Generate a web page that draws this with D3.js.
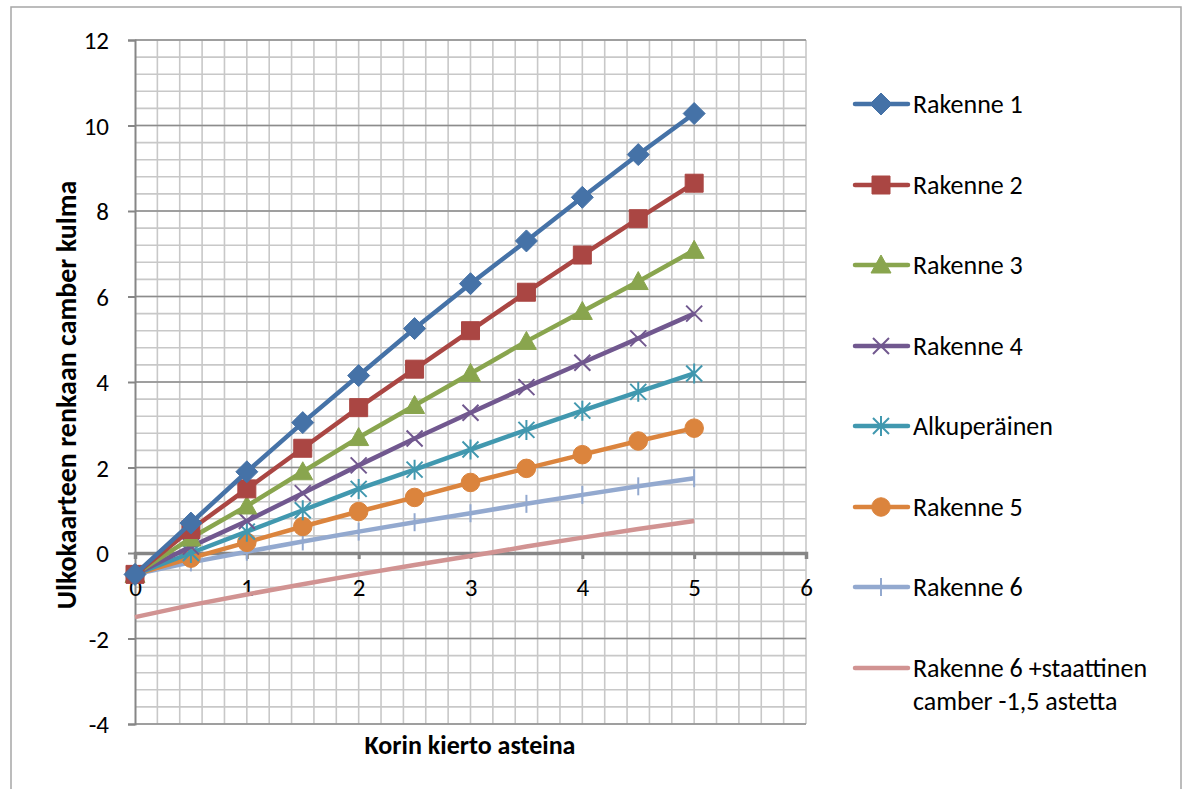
<!DOCTYPE html>
<html><head><meta charset="utf-8">
<script src="https://cdn.jsdelivr.net/npm/d3@7"></script>
<style>
body{margin:0;background:#fff;}
text{font-family:Carlito,Calibri,"Liberation Sans",sans-serif;fill:#000;}
</style></head>
<body><svg id="c" width="1190" height="789"></svg>
<script>
const xValues = [0, 0.5, 1, 1.5, 2, 2.5, 3, 3.5, 4, 4.5, 5];
const rakenne1 = [-0.5, 0.7, 1.9, 3.05, 4.15, 5.25, 6.3, 7.3, 8.32, 9.32, 10.28];
const rakenne2 = [-0.5, 0.55, 1.5, 2.45, 3.4, 4.3, 5.2, 6.1, 6.97, 7.82, 8.65];
const rakenne3 = [-0.5, 0.35, 1.1, 1.9, 2.7, 3.45, 4.2, 4.95, 5.65, 6.35, 7.08];
const rakenne4 = [-0.5, 0.15, 0.75, 1.4, 2.05, 2.68, 3.28, 3.88, 4.45, 5.02, 5.6];
const alkuperainen = [-0.5, 0.0, 0.5, 1.0, 1.5, 1.95, 2.42, 2.88, 3.33, 3.77, 4.2];
const rakenne5 = [-0.5, -0.12, 0.25, 0.62, 0.97, 1.3, 1.65, 1.98, 2.3, 2.62, 2.92];
const rakenne6 = [-0.5, -0.22, 0.03, 0.27, 0.5, 0.72, 0.93, 1.15, 1.36, 1.56, 1.75];
const rakenne6Static = [-1.5, -1.22, -0.97, -0.73, -0.5, -0.28, -0.07, 0.15, 0.36, 0.56, 0.75];
const seriesNames = ["Rakenne 1","Rakenne 2","Rakenne 3","Rakenne 4","Alkuperäinen","Rakenne 5","Rakenne 6","Rakenne 6 +staattinen|camber -1,5 astetta"];
const xTicks = [0,1,2,3,4,5,6];
const yTicks = [-4,-2,0,2,4,6,8,10,12];
const xTickLabels = ["0","1","2","3","4","5","6"];
const yTickLabels = ["-4","-2","0","2","4","6","8","10","12"];

const svg = d3.select("#c");
const x = d3.scaleLinear().domain([0,6]).range([135,806]);
const y = d3.scaleLinear().domain([-4,12]).range([724,40]);

svg.append("rect").attr("x",11).attr("y",7).attr("width",1170).attr("height",790)
  .attr("fill","none").attr("stroke","#a6a6a6").attr("stroke-width",1.5);

const g = svg.append("g");
g.selectAll(".vg").data(d3.range(1,31).map(i=>i*0.2)).join("line")
  .attr("x1",d=>x(d)).attr("x2",d=>x(d)).attr("y1",y(12)).attr("y2",y(-4))
  .attr("stroke","#c8c8c8").attr("stroke-width",1.6);
g.selectAll(".hg").data(d3.range(0,41).map(i=>-4+i*0.4)).join("line")
  .attr("x1",x(0)).attr("x2",x(6)).attr("y1",d=>y(d)).attr("y2",d=>y(d))
  .attr("stroke","#c8c8c8").attr("stroke-width",1.6);
g.selectAll(".hm").data(yTicks).join("line")
  .attr("x1",x(0)).attr("x2",x(6)).attr("y1",d=>y(d)).attr("y2",d=>y(d))
  .attr("stroke","#8c8c8c").attr("stroke-width",1.6);

// y axis
const yAxis = d3.axisLeft(y).tickValues(yTicks).tickSize(7).tickPadding(19)
  .tickFormat((d,i)=>yTickLabels[i]);
const ya = svg.append("g").attr("transform",`translate(${x(0)},0)`).call(yAxis);
ya.attr("font-size",25).attr("font-family",null);
ya.select(".domain").attr("stroke","#868686").attr("stroke-width",2);
ya.selectAll(".tick line").attr("stroke","#868686").attr("stroke-width",2);
ya.selectAll(".tick text").style("font-size","25px").attr("dy","0.34em");

// x axis at y=0
const xAxis = d3.axisBottom(x).tickValues(xTicks).tickSize(6).tickPadding(19)
  .tickFormat((d,i)=>xTickLabels[i]);
const xa = svg.append("g").attr("transform",`translate(0,${y(0)})`).call(xAxis);
xa.attr("font-size",25).attr("font-family",null);
xa.select(".domain").attr("stroke","#868686").attr("stroke-width",3.5);
xa.selectAll(".tick line").attr("stroke","#868686").attr("stroke-width",3);
xa.selectAll(".tick text").style("font-size","25px");

svg.append("text").attr("transform",`translate(76,395) rotate(-90)`)
  .attr("text-anchor","middle").style("font-size","28px").style("font-weight","bold")
  .text("Ulkokaarteen renkaan camber kulma");
svg.append("text").attr("x",470).attr("y",754).attr("text-anchor","middle")
  .style("font-size","26px").style("font-weight","bold").text("Korin kierto asteina");

const colors = ["#4572A7","#AA4643","#89A54E","#71588F","#4198AF","#DB843D","#93A9CF","#D19392"];
const data = [rakenne1,rakenne2,rakenne3,rakenne4,alkuperainen,rakenne5,rakenne6,rakenne6Static];
const markers = ["diamond","square","triangle","x","star","circle","plus","none"];

function markerPath(type){
  switch(type){
    case "diamond": return "M0,-11L11,0L0,11L-11,0Z";
    case "square": return "M-9,-9H9V9H-9Z";
    case "triangle": return "M0,-10L10,8L-10,8Z";
    case "circle": return d3.symbol(d3.symbolCircle,270)();
    case "x": return "M-8,-8L8,8M-8,8L8,-8";
    case "star": return "M-8,-8L8,8M-8,8L8,-8M0,-10V10";
    case "plus": return "M0,-9V9";
  }
  return null;
}
function drawMarker(sel,type,color){
  const p = markerPath(type);
  if(!p) return;
  const stroked = (type==="x"||type==="star"||type==="plus");
  sel.append("path").attr("d",p)
    .attr("fill",stroked?"none":color)
    .attr("stroke",color).attr("stroke-width",stroked?2:1);
}

const line = d3.line().x((d,i)=>x(xValues[i])).y(d=>y(d));
for(let s=data.length-1;s>=0;s--){
  const sg = svg.append("g");
  sg.append("path").datum(data[s]).attr("d",line).attr("fill","none")
    .attr("stroke",colors[s]).attr("stroke-width",4.5).attr("stroke-linejoin","round");
  data[s].forEach((v,i)=>{
    const mg = sg.append("g").attr("transform",`translate(${x(xValues[i])},${y(v)})`);
    drawMarker(mg,markers[s],colors[s]);
  });
}

const legY = [104,185,265,346,426,507,587,668];
seriesNames.forEach((name,i)=>{
  const lg = svg.append("g").attr("transform",`translate(0,${legY[i]})`);
  lg.append("line").attr("x1",855).attr("x2",908).attr("y1",0).attr("y2",0)
    .attr("stroke",colors[i]).attr("stroke-width",4.5).attr("stroke-linecap","round");
  const mg = lg.append("g").attr("transform","translate(881,0)");
  drawMarker(mg,markers[i],colors[i]);
  const parts = name.split("|");
  parts.forEach((p,j)=>{
    lg.append("text").attr("x",913).attr("y",j*33).attr("dy","0.34em")
      .style("font-size","26px").text(p);
  });
});
</script></body></html>
